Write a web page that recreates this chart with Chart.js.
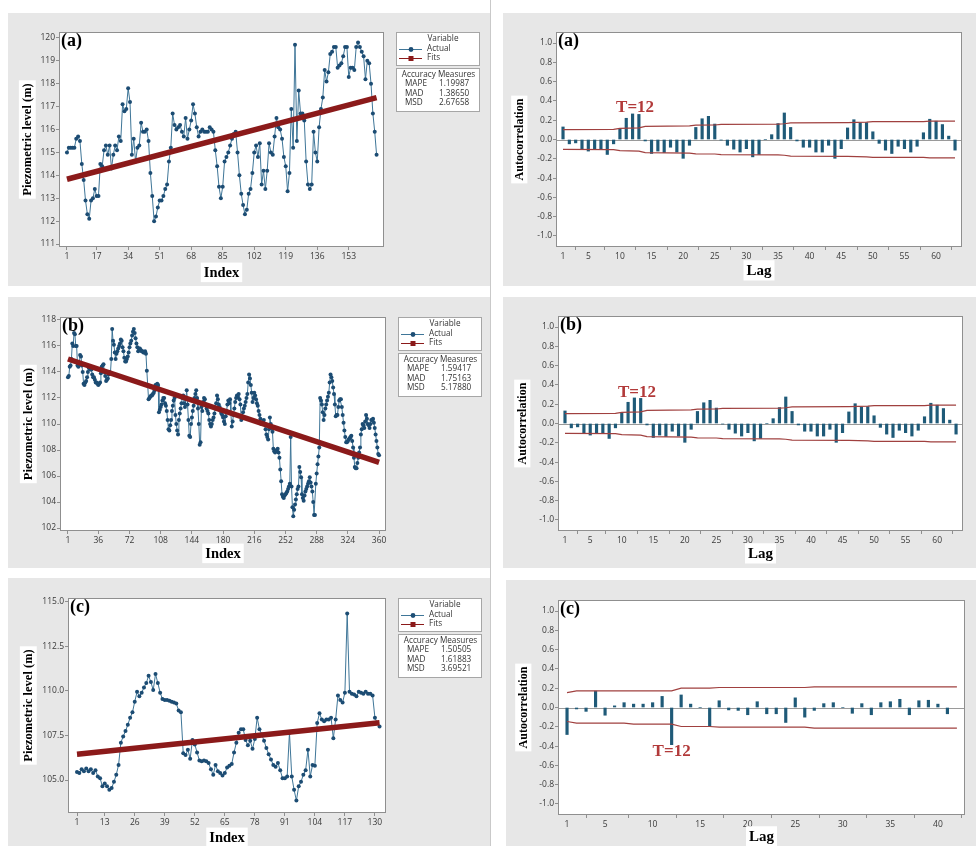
<!DOCTYPE html>
<html>
<head>
<meta charset="utf-8">
<script src="https://cdn.jsdelivr.net/npm/chart.js@4.4.1/dist/chart.umd.min.js"></script>
<style>
body{margin:0;background:#fff;width:976px;height:846px;position:relative;overflow:hidden}
.panel{position:absolute;background:#e7e7e7}
.sep{position:absolute;left:490px;top:0;width:1px;height:846px;background:#c9c9c9}
canvas{display:block}
</style>
</head>
<body>
<div class="sep"></div>
<div class="panel" style="left:8px;top:13px;width:482px;height:273px"><canvas id="cLa" width="482" height="273"></canvas></div>
<div class="panel" style="left:503px;top:13px;width:473px;height:273px"><canvas id="cRa" width="473" height="273"></canvas></div>
<div class="panel" style="left:8px;top:297px;width:482px;height:271px"><canvas id="cLb" width="482" height="271"></canvas></div>
<div class="panel" style="left:503px;top:297px;width:473px;height:271px"><canvas id="cRb" width="473" height="271"></canvas></div>
<div class="panel" style="left:8px;top:578px;width:482px;height:268px"><canvas id="cLc" width="482" height="268"></canvas></div>
<div class="panel" style="left:506px;top:580px;width:470px;height:266px"><canvas id="cRc" width="470" height="266"></canvas></div>
<script>
// ---- tick labels
const idxTicksA = [1, 17, 34, 51, 68, 85, 102, 119, 136, 153];
const idxTicksB = [1, 36, 72, 108, 144, 180, 216, 252, 288, 324, 360];
const idxTicksC = [1, 13, 26, 39, 52, 65, 78, 91, 104, 117, 130];
const levelTicksA = [111, 112, 113, 114, 115, 116, 117, 118, 119, 120];
const levelTicksB = [102, 104, 106, 108, 110, 112, 114, 116, 118];
const levelTicksC = [105, 107.5, 110, 112.5, 115];
const lagTicksAB = [1, 5, 10, 15, 20, 25, 30, 35, 40, 45, 50, 55, 60];
const lagTicksC = [1, 5, 10, 15, 20, 25, 30, 35, 40];
const acfTicks = [-1, -0.8, -0.6, -0.4, -0.2, 0, 0.2, 0.4, 0.6, 0.8, 1];

// ---- piezometric level, Actual (index 1..n)
const actualA = [
115.0,115.2,115.2,115.2,115.2,115.6,115.7,115.5,114.5,113.8,
112.9,112.3,112.1,112.9,113.0,113.4,113.1,113.1,114.5,114.4,
115.1,115.3,114.9,115.3,114.3,114.9,115.3,115.1,115.7,115.5,
117.1,116.8,116.9,117.8,117.2,114.9,115.6,114.6,115.2,115.3,
116.3,115.9,115.9,116.0,115.5,114.1,113.1,112.0,112.2,112.6,
112.9,112.9,113.1,113.4,113.6,114.6,115.2,116.7,116.2,116.0,
116.1,116.2,115.9,115.7,116.5,115.6,116.0,116.4,117.1,116.7,
116.1,115.7,115.9,116.0,115.9,115.9,115.9,116.1,116.0,115.9,
115.1,114.4,113.5,113.0,113.5,114.6,114.8,115.0,115.3,115.6,
115.8,115.9,115.0,114.0,113.2,112.7,112.3,112.5,113.2,113.4,
114.1,115.0,115.3,114.8,115.4,113.6,114.2,113.4,114.2,115.4,
115.0,114.9,115.7,116.5,116.1,116.0,115.6,114.8,114.4,113.3,
114.1,116.9,115.2,119.7,115.5,117.7,116.7,116.7,116.4,114.6,
113.6,113.4,113.6,115.9,115.0,114.6,116.1,116.9,117.4,118.6,
118.1,118.5,119.3,119.4,119.6,119.6,118.7,118.8,118.9,119.2,
119.6,119.6,118.3,118.7,118.7,118.6,119.6,119.8,119.6,119.4,
119.2,118.2,119.0,118.9,118.0,116.7,115.9,114.9
];
const actualB = [
113.6,113.7,114.4,114.5,115.0,116.2,116.0,117.0,116.9,116.0,
116.0,114.5,114.4,114.6,115.3,115.2,114.5,114.0,113.1,113.0,
113.2,113.3,113.6,114.0,114.3,114.4,114.2,114.2,113.8,113.6,
113.6,113.4,113.2,113.2,113.1,113.0,113.1,113.2,113.9,114.4,
114.5,114.6,114.0,113.7,113.3,113.4,113.5,113.8,114.0,113.9,
115.0,117.3,116.4,116.1,115.5,115.0,115.4,115.6,115.8,116.0,
116.2,116.5,116.4,115.9,115.6,115.1,114.8,114.8,115.0,115.2,
115.5,115.9,116.2,116.4,116.8,117.1,117.3,117.0,116.6,116.2,
115.9,115.6,115.8,115.8,115.7,115.6,115.6,115.5,115.5,115.6,
115.4,114.1,113.0,111.9,112.0,112.1,112.2,112.2,112.3,112.4,
112.6,113.0,113.0,113.1,113.0,110.9,111.1,111.3,111.5,111.8,
112.0,112.0,111.6,111.4,111.0,110.3,109.6,109.5,109.9,110.3,
111.0,111.4,111.8,112.0,110.7,110.0,109.5,109.2,110.3,110.8,
111.2,111.6,112.0,112.2,111.6,111.3,111.9,112.6,111.5,110.3,
109.1,109.0,110.0,110.5,111.0,111.4,112.0,112.3,112.6,112.0,
111.2,110.0,108.4,108.6,111.3,111.0,111.7,112.0,111.9,111.5,
111.2,111.0,110.8,110.3,110.0,109.8,110.0,110.3,110.5,110.8,
111.2,111.6,112.2,111.9,111.5,111.3,111.0,110.8,110.7,110.5,
110.2,110.0,110.6,111.0,111.5,111.8,111.6,111.9,110.8,109.8,
110.2,110.7,111.2,111.7,112.0,112.2,112.1,112.3,111.9,111.5,
110.3,110.6,110.9,111.2,111.4,111.7,112.0,112.3,113.2,113.8,
113.5,113.0,112.4,111.7,112.0,112.4,112.2,111.9,111.6,111.4,
111.0,110.7,110.4,110.0,110.1,110.2,110.3,110.0,109.6,109.2,
109.0,108.8,109.6,110.5,110.0,109.7,109.4,108.1,107.9,107.8,
107.9,108.0,108.1,107.8,107.4,106.5,105.6,104.6,104.4,104.3,
104.5,104.6,104.7,104.8,105.0,105.2,105.4,109.0,105.2,103.6,
102.9,103.4,103.8,104.2,104.6,105.0,105.2,106.7,106.3,105.9,
104.6,104.3,104.1,104.5,104.8,105.0,105.2,105.4,105.6,105.9,
105.5,105.2,104.8,104.0,103.0,103.0,105.4,106.2,106.9,107.5,
108.2,112.0,111.8,111.5,110.9,110.3,110.7,111.2,111.5,111.8,
112.1,112.4,113.2,113.8,113.6,113.3,112.8,112.3,111.5,110.6,
110.7,110.7,111.3,111.8,111.9,111.9,111.3,110.7,110.1,109.5,
109.0,108.6,108.6,108.7,108.8,108.9,109.0,109.1,108.7,108.2,
107.4,106.7,106.6,106.6,107.0,107.4,107.8,108.2,109.2,109.6,
110.0,109.9,109.7,110.2,110.7,110.4,110.0,109.9,109.7,110.0,
110.3,110.3,110.4,110.1,109.7,109.2,108.7,108.2,107.7,107.6
];
const actualC = [
105.45,105.4,105.6,105.5,105.65,105.5,105.6,105.4,105.55,105.2,
105.1,104.65,104.8,104.65,104.45,104.55,104.9,105.3,105.85,107.1,
107.45,107.75,108.1,108.5,108.8,109.4,109.95,109.7,109.9,110.2,
110.45,110.85,110.5,110.05,110.95,110.45,109.9,109.55,109.5,109.5,
109.45,109.4,109.35,109.3,108.9,108.8,106.5,106.4,106.7,106.2,
107.25,107.0,106.55,106.1,106.05,106.1,106.05,105.95,105.6,105.3,
105.85,105.5,105.4,105.25,105.4,105.7,105.8,105.9,106.55,107.1,
107.65,107.85,107.85,107.25,106.95,107.2,106.75,107.3,108.5,107.85,
107.55,107.2,106.8,106.45,106.15,105.85,105.75,105.95,105.55,105.1,
105.1,105.2,107.65,105.2,104.45,103.85,104.65,104.9,105.3,105.55,
106.7,105.2,105.85,105.8,108.2,108.75,108.4,108.3,108.4,108.4,
108.5,107.35,108.4,109.75,109.5,109.35,109.9,114.35,109.95,109.85,
109.8,109.7,109.95,109.9,109.85,109.95,109.85,109.85,109.75,108.5,
108.2,108.0
];

// ---- Fits (trend line end points)
const fitIdxA = [1, 168];
const fitValA = [113.83, 117.39];
const fitIdxB = [1, 360];
const fitValB = [115.0, 107.05];
const fitIdxC = [1, 132];
const fitValC = [106.45, 108.22];

// ---- accuracy measures
const measureNames = ['MAPE', 'MAD', 'MSD'];
const accuracyA = ['1.19987', '1.38650', '2.67658'];
const accuracyB = ['1.59417', '1.75163', '5.17880'];
const accuracyC = ['1.50505', '1.61883', '3.69521'];

// ---- autocorrelation (lag 1..n)
const acfAB = [
0.13,-0.045,-0.035,-0.10,-0.12,-0.10,-0.10,-0.155,-0.045,0.11,
0.22,0.265,0.26,-0.015,-0.145,-0.12,-0.135,-0.08,-0.13,-0.195,
-0.06,0.125,0.215,0.24,0.16,-0.005,-0.06,-0.10,-0.13,-0.095,
-0.18,-0.155,0,0.05,0.165,0.275,0.125,-0.015,-0.08,-0.08,
-0.13,-0.13,-0.06,-0.195,-0.095,0.12,0.205,0.17,0.175,0.08,
-0.04,-0.11,-0.145,-0.07,-0.095,-0.13,-0.07,0.07,0.21,0.19,
0.155,0.035,-0.11
];
const limLagsAB = [1, 9, 10, 13, 14, 21, 22, 25, 26, 35, 36, 37, 46, 49, 50, 58, 59, 63];
const limUpAB = [0.103,0.105,0.115,0.12,0.135,0.142,0.148,0.150,0.156,0.160,0.163,0.172,0.175,0.180,0.185,0.186,0.19,0.19];
const limLowAB = [-0.103,-0.105,-0.115,-0.12,-0.135,-0.142,-0.148,-0.150,-0.156,-0.160,-0.163,-0.172,-0.175,-0.180,-0.185,-0.186,-0.19,-0.19];

const acfC = [
-0.28,-0.015,-0.04,0.17,-0.08,0.017,0.05,0.035,0.035,0.05,
0.115,-0.385,0.13,0.035,0,-0.195,0.07,-0.025,-0.03,-0.075,
0.06,-0.065,-0.065,-0.155,0.10,-0.10,-0.03,0.04,0.05,0,
-0.06,0.04,-0.075,0.05,0.06,0.085,-0.075,0.07,0.075,0.035,
-0.065
];
const limUpLagsC = [1, 2, 12, 13, 16, 17, 26, 27, 42];
const limUpC = [0.155, 0.172, 0.172, 0.2, 0.2, 0.207, 0.207, 0.214, 0.214];
const limLowLagsC = [1, 2, 7, 8, 12, 13, 16, 17, 26, 27, 42];
const limLowC = [-0.145,-0.162,-0.162,-0.172,-0.172,-0.197,-0.197,-0.203,-0.203,-0.214,-0.214];

function seq(vals) { return vals.map((v, i) => ({x: i + 1, y: v})); }
function pairs(xs, ys) { return xs.map((x, i) => ({x: x, y: ys[i]})); }

const TICK_FONT = {family: '"Open Sans", sans-serif', size: 8.5};
const SERIF = '"Liberation Serif", "Times New Roman", serif';

function boxedText(ctx, text, x, y, size, rotate) {
  ctx.save();
  ctx.translate(x, y);
  if (rotate) ctx.rotate(-Math.PI / 2);
  ctx.font = 'bold ' + size + 'px ' + SERIF;
  const w = ctx.measureText(text).width;
  ctx.fillStyle = '#fff';
  ctx.fillRect(-w / 2 - 3, -size * 0.65, w + 6, size * 1.35);
  ctx.fillStyle = '#000';
  ctx.textAlign = 'center';
  ctx.textBaseline = 'middle';
  ctx.fillText(text, 0, 1);
  ctx.restore();
}

// draws the white plot area, frame, panel label, titles, legend and note
const decor = {
  id: 'decor',
  beforeDraw(chart, args, o) {
    const a = chart.chartArea, ctx = chart.ctx;
    ctx.save();
    ctx.fillStyle = '#fff';
    ctx.fillRect(a.left, a.top, a.right - a.left, a.bottom - a.top);
    ctx.restore();
  },
  beforeDatasetsDraw(chart, args, o) {
    if (!o.zero) return;
    const a = chart.chartArea, ctx = chart.ctx;
    const y0 = Math.round(chart.scales.y.getPixelForValue(0)) + 0.5;
    ctx.save();
    ctx.strokeStyle = '#9a9a9a';
    ctx.lineWidth = 1;
    ctx.beginPath(); ctx.moveTo(a.left, y0); ctx.lineTo(a.right, y0); ctx.stroke();
    ctx.restore();
  },
  afterDraw(chart, args, o) {
    const a = chart.chartArea, ctx = chart.ctx;
    ctx.save();
    ctx.strokeStyle = '#8f8f8f';
    ctx.lineWidth = 1;
    ctx.strokeRect(a.left + 0.5, a.top + 0.5, a.right - a.left - 1, a.bottom - a.top - 1);
    ctx.fillStyle = '#000';
    ctx.font = 'bold 18px ' + SERIF;
    ctx.textBaseline = 'top';
    ctx.textAlign = 'left';
    ctx.fillText(o.label, a.left + 2, a.top);
    ctx.restore();
    boxedText(ctx, o.xTitle, (a.left + a.right) / 2, a.bottom + o.xTitleDy, o.xTitleSize, false);
    boxedText(ctx, o.yTitle, o.yTitleX, (a.top + a.bottom) / 2, o.yTitleSize, true);
    if (o.note) {
      ctx.save();
      ctx.fillStyle = '#b23a3a';
      ctx.font = 'bold 17px ' + SERIF;
      ctx.textAlign = 'center';
      ctx.textBaseline = 'middle';
      ctx.fillText(o.note, chart.scales.x.getPixelForValue(o.noteX), chart.scales.y.getPixelForValue(o.noteY));
      ctx.restore();
    }
    if (o.acc) drawLegend(ctx, a.right + 12, a.top, o.acc);
  }
};

function drawLegend(ctx, x0, y0, acc) {
  const w = 83;
  ctx.save();
  ctx.fillStyle = '#fff';
  ctx.strokeStyle = '#a6a6a6';
  ctx.lineWidth = 1;
  ctx.fillRect(x0, y0, w, 33);
  ctx.strokeRect(x0 + 0.5, y0 + 0.5, w, 33);
  ctx.fillRect(x0, y0 + 36, w, 43);
  ctx.strokeRect(x0 + 0.5, y0 + 36.5, w, 43);
  ctx.fillStyle = '#333';
  ctx.font = '8.2px "Open Sans", sans-serif';
  ctx.textBaseline = 'middle';
  ctx.textAlign = 'center';
  ctx.fillText('Variable', x0 + 47, y0 + 7);
  ctx.fillText('Accuracy Measures', x0 + w / 2 + 1, y0 + 43);
  ctx.textAlign = 'left';
  ctx.fillText('Actual', x0 + 31, y0 + 17);
  ctx.fillText('Fits', x0 + 31, y0 + 26);
  // legend keys
  ctx.strokeStyle = '#3f7698';
  ctx.beginPath(); ctx.moveTo(x0 + 3, y0 + 17.5); ctx.lineTo(x0 + 26, y0 + 17.5); ctx.stroke();
  ctx.fillStyle = '#1d4e75';
  ctx.beginPath(); ctx.arc(x0 + 15, y0 + 17.5, 2.4, 0, Math.PI * 2); ctx.fill();
  ctx.strokeStyle = '#8b1a1a';
  ctx.beginPath(); ctx.moveTo(x0 + 3, y0 + 26.5); ctx.lineTo(x0 + 26, y0 + 26.5); ctx.stroke();
  ctx.fillStyle = '#8b1a1a';
  ctx.fillRect(x0 + 12.5, y0 + 24, 5, 5);
  ctx.fillStyle = '#333';
  for (let i = 0; i < 3; i++) {
    ctx.fillText(measureNames[i], x0 + 9, y0 + 52 + i * 9.5);
    ctx.fillText(acc[i], x0 + 43, y0 + 52 + i * 9.5);
  }
  ctx.restore();
}

function axisCommon(ticksArr, fmt, min, max) {
  return {
    type: 'linear', min: min, max: max, offset: false,
    afterBuildTicks: s => { s.ticks = ticksArr.map(v => ({value: v})); },
    ticks: {font: TICK_FONT, color: '#3a3a3a', padding: 1, maxRotation: 0, autoSkip: false, callback: fmt},
    grid: {drawOnChartArea: false, drawTicks: true, tickLength: 3, color: '#8f8f8f'},
    border: {display: false}
  };
}

function levelChart(id, box, area, cfg) {
  const xs = axisCommon(cfg.xTicks, v => String(v), cfg.xMin, cfg.xMax);
  xs.afterFit = s => { s.height = box.y + box.h - area.b; };
  const ys = axisCommon(cfg.yTicks, v => v.toFixed(cfg.yDec), cfg.yMin, cfg.yMax);
  ys.afterFit = s => { s.width = area.l - box.x; };
  new Chart(document.getElementById(id), {
    type: 'line',
    data: {datasets: [
      {label: 'Fits', data: pairs(cfg.fitIdx, cfg.fitVal), borderColor: '#8b1a1a', borderWidth: 5.5,
       pointRadius: 0, order: 0},
      {label: 'Actual', data: seq(cfg.actual), borderColor: '#3f7698', borderWidth: 1, pointRadius: 2,
       pointBackgroundColor: '#1c4c73', pointBorderWidth: 0, order: 1}
    ]},
    options: {
      responsive: false, animation: false, devicePixelRatio: 1,
      layout: {padding: {top: area.t - box.y, left: 0, right: box.x + box.w - area.r, bottom: 0}},
      plugins: {
        legend: {display: false}, tooltip: {enabled: false},
        decor: {label: cfg.label, xTitle: 'Index', xTitleDy: cfg.xTitleDy, xTitleSize: 14.5,
                yTitle: 'Piezometric level (m)', yTitleX: cfg.yTitleX - box.x, yTitleSize: 12.5,
                acc: cfg.acc, zero: false}
      },
      scales: {x: xs, y: ys}
    },
    plugins: [decor]
  });
}

function acfChart(id, box, area, cfg) {
  const xs = axisCommon(cfg.xTicks, v => String(v), cfg.xMin, cfg.xMax);
  xs.afterFit = s => { s.height = box.y + box.h - area.b; };
  const ys = axisCommon(acfTicks, v => v.toFixed(1), -1.114, 1.114);
  ys.afterFit = s => { s.width = area.l - box.x; };
  new Chart(document.getElementById(id), {
    type: 'bar',
    data: {datasets: [
      {type: 'line', data: pairs(cfg.upLags, cfg.up), borderColor: '#a0403f', borderWidth: 1.2, pointRadius: 0, order: 0},
      {type: 'line', data: pairs(cfg.lowLags, cfg.low), borderColor: '#a0403f', borderWidth: 1.2, pointRadius: 0, order: 0},
      {type: 'bar', data: seq(cfg.acf), backgroundColor: '#1f5a78', barThickness: 2.5, order: 1}
    ]},
    options: {
      responsive: false, animation: false, devicePixelRatio: 1,
      layout: {padding: {top: area.t - box.y, left: 0, right: box.x + box.w - area.r, bottom: 0}},
      plugins: {
        legend: {display: false}, tooltip: {enabled: false},
        decor: {label: cfg.label, xTitle: 'Lag', xTitleDy: cfg.xTitleDy, xTitleSize: 15,
                yTitle: 'Autocorrelation', yTitleX: cfg.yTitleX - box.x, yTitleSize: 12,
                note: 'T=12', noteX: cfg.noteX, noteY: cfg.noteY, zero: true}
      },
      scales: {x: xs, y: ys}
    },
    plugins: [decor]
  });
}

levelChart('cLa', {x: 8, y: 13, w: 482, h: 273}, {l: 59, t: 32, r: 384, b: 247}, {
  actual: actualA, fitIdx: fitIdxA, fitVal: fitValA, xTicks: idxTicksA, yTicks: levelTicksA, yDec: 0,
  xMin: -3.3, xMax: 172, yMin: 110.87, yMax: 120.26, label: '(a)', acc: accuracyA, xTitleDy: 25, yTitleX: 27
});
levelChart('cLb', {x: 8, y: 297, w: 482, h: 271}, {l: 60, t: 317, r: 386, b: 531}, {
  actual: actualB, fitIdx: fitIdxB, fitVal: fitValB, xTicks: idxTicksB, yTicks: levelTicksB, yDec: 0,
  xMin: -8.2, xMax: 368, yMin: 101.77, yMax: 118.23, label: '(b)', acc: accuracyB, xTitleDy: 22, yTitleX: 28
});
levelChart('cLc', {x: 8, y: 578, w: 482, h: 268}, {l: 68, t: 598, r: 386, b: 813}, {
  actual: actualC, fitIdx: fitIdxC, fitVal: fitValC, xTicks: idxTicksC, yTicks: levelTicksC, yDec: 1,
  xMin: -2.9, xMax: 134.8, yMin: 103.15, yMax: 115.22, label: '(c)', acc: accuracyC, xTitleDy: 24, yTitleX: 28
});
acfChart('cRa', {x: 503, y: 13, w: 473, h: 273}, {l: 556, t: 32, r: 962, b: 247}, {
  acf: acfAB, upLags: limLagsAB, up: limUpAB, lowLags: limLagsAB, low: limLowAB, xTicks: lagTicksAB,
  xMin: -0.11, xMax: 64.1, label: '(a)', xTitleDy: 23, yTitleX: 519, noteX: 12.4, noteY: 0.33
});
acfChart('cRb', {x: 503, y: 297, w: 473, h: 271}, {l: 558, t: 316, r: 963, b: 531}, {
  acf: acfAB, upLags: limLagsAB, up: limUpAB, lowLags: limLagsAB, low: limLowAB, xTicks: lagTicksAB,
  xMin: -0.11, xMax: 64.1, label: '(b)', xTitleDy: 22, yTitleX: 522, noteX: 12.4, noteY: 0.325
});
acfChart('cRc', {x: 506, y: 580, w: 470, h: 266}, {l: 558, t: 600, r: 965, b: 815}, {
  acf: acfC, upLags: limUpLagsC, up: limUpC, lowLags: limLowLagsC, low: limLowC, xTicks: lagTicksC,
  xMin: 0.05, xMax: 42.85, label: '(c)', xTitleDy: 21, yTitleX: 523, noteX: 12.0, noteY: -0.46
});
</script>
</body>
</html>
